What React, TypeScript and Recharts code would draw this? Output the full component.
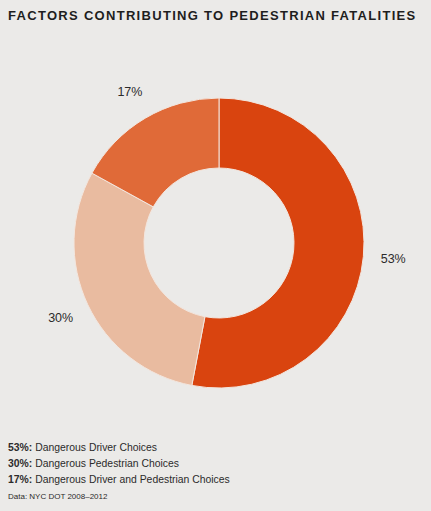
import React from 'react';
import { PieChart, Pie, Cell } from 'recharts';

// Shares of pedestrian fatalities by contributing factor (NYC DOT 2008–2012)
const FACTORS = ['Dangerous Driver Choices', 'Dangerous Pedestrian Choices', 'Dangerous Driver and Pedestrian Choices'];
const SHARES = [53, 30, 17];
const COLORS = ['#D9440F', '#E9BBA0', '#E06A38'];

const BG = '#EBEAE8';
const TEXT = '#2B2B2B';
const FONT = '"Liberation Sans", Arial, sans-serif';

const data = FACTORS.map((name, i) => ({ name, value: SHARES[i] }));

const RAD = Math.PI / 180;

// label sits outside the ring at the slice's mid angle
function renderLabel(props: any) {
  const { cx, cy, midAngle, outerRadius, value } = props;
  const r = outerRadius + 30;
  const x = cx + r * Math.cos(-midAngle * RAD);
  const y = cy + r * Math.sin(-midAngle * RAD);
  return (
    <text
      x={x}
      y={y}
      fill={TEXT}
      fontSize={12.5}
      fontFamily={FONT}
      textAnchor="middle"
      dominantBaseline="central"
    >
      {value}%
    </text>
  );
}

export default function App() {
  return (
    <div
      style={{
        position: 'absolute',
        left: 0,
        top: 0,
        width: 431,
        height: 511,
        background: BG,
        fontFamily: FONT,
        color: TEXT,
        overflow: 'hidden',
      }}
    >
      <div
        style={{
          position: 'absolute',
          left: 8,
          top: 8,
          fontSize: 13,
          fontWeight: 700,
          letterSpacing: 1.3,
          whiteSpace: 'nowrap',
          color: '#1E1E1E',
        }}
      >
        FACTORS CONTRIBUTING TO PEDESTRIAN FATALITIES
      </div>
      <div style={{ position: 'absolute', left: 0, top: 0 }}>
        <PieChart width={431} height={420} margin={{ top: 0, right: 0, bottom: 0, left: 0 }}>
          <Pie
            data={data}
            dataKey="value"
            nameKey="name"
            cx={219}
            cy={243}
            innerRadius={75}
            outerRadius={145}
            startAngle={90}
            endAngle={-270}
            stroke="#F3E6DE"
            strokeWidth={1}
            label={renderLabel}
            labelLine={false}
            isAnimationActive={false}
          >
            {data.map((_, i) => (
              <Cell key={i} fill={COLORS[i]} />
            ))}
          </Pie>
        </PieChart>
      </div>
      <div style={{ position: 'absolute', left: 8, top: 440, fontSize: 10.4, lineHeight: '16px' }}>
        {data.map((d) => (
          <div key={d.name} style={{ whiteSpace: 'nowrap' }}>
            <b>{d.value}%:</b> {d.name}
          </div>
        ))}
        <div style={{ fontSize: 8, marginTop: 1 }}>Data: NYC DOT 2008–2012</div>
      </div>
    </div>
  );
}
